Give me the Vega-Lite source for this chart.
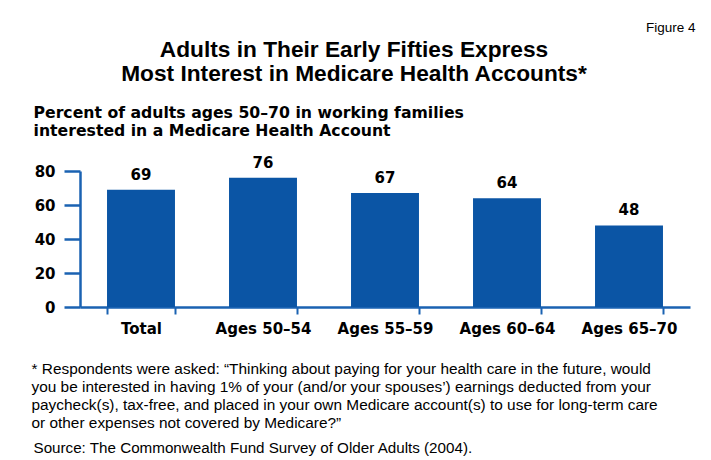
{
  "$schema": "https://vega.github.io/schema/vega-lite/v6.json",
  "width": 610,
  "height": 136,
  "autosize": {"type": "none"},
  "padding": {"left": 80, "top": 171, "right": 21, "bottom": 153},
  "background": "white",
  "config": {"view": {"stroke": null}},
  "title": {
    "text": ["Adults in Their Early Fifties Express", "Most Interest in Medicare Health Accounts*"],
    "font": "Liberation Sans",
    "fontSize": 22.7,
    "fontWeight": "bold",
    "color": "black",
    "anchor": "middle",
    "lineHeight": 24,
    "offset": 0,
    "dx": -31,
    "dy": 66
  },
  "data": {
    "values": [
      {"group": "Total", "pct": 69},
      {"group": "Ages 50–54", "pct": 76},
      {"group": "Ages 55–59", "pct": 67},
      {"group": "Ages 60–64", "pct": 64},
      {"group": "Ages 65–70", "pct": 48}
    ]
  },
  "layer": [
    {
      "mark": {"type": "bar", "color": "#0b55a5"},
      "encoding": {
        "x": {
          "field": "group", "type": "nominal", "sort": null,
          "scale": {"paddingInner": 0.443, "paddingOuter": 0.2215},
          "axis": {
            "orient": "bottom",
            "title": [
              "* Respondents were asked: “Thinking about paying for your health care in the future, would",
              "you be interested in having 1% of your (and/or your spouses’) earnings deducted from your",
              "paycheck(s), tax-free, and placed in your own Medicare account(s) to use for long-term care",
              "or other expenses not covered by Medicare?”"
            ],
            "titleFont": "Liberation Sans",
            "titleFontSize": 15.4,
            "titleFontWeight": "normal",
            "titleColor": "black",
            "titleAlign": "left",
            "titleAnchor": "start",
            "titleAngle": 0,
            "titleBaseline": "alphabetic",
            "titleLineHeight": 18,
            "titleX": -49,
            "titleY": 66,
            "labelAngle": 0,
            "labelFont": "DejaVu Sans",
            "labelFontSize": 15,
            "labelFontWeight": "bold",
            "labelColor": "black",
            "labelPadding": 7,
            "tickBand": "extent",
            "tickSize": 7,
            "tickWidth": 2,
            "tickColor": "#1a62b2",
            "domainColor": "#1a62b2",
            "domainWidth": 2.5
          }
        },
        "y": {
          "field": "pct", "type": "quantitative",
          "scale": {"domain": [0, 80], "nice": false},
          "axis": {
            "orient": "left",
            "values": [0, 20, 40, 60, 80],
            "grid": false,
            "title": ["Percent of adults ages 50–70 in working families", "interested in a Medicare Health Account"],
            "titleFont": "DejaVu Sans",
            "titleFontSize": 15.7,
            "titleFontWeight": "bold",
            "titleColor": "black",
            "titleAngle": 0,
            "titleAlign": "left",
            "titleBaseline": "alphabetic",
            "titleLineHeight": 18,
            "titleX": -47,
            "titleY": -54,
            "labelFont": "DejaVu Sans",
            "labelFontSize": 15,
            "labelFontWeight": "bold",
            "labelColor": "black",
            "labelPadding": 9,
            "tickSize": 16,
            "tickWidth": 2.5,
            "tickColor": "#1a62b2",
            "domainColor": "#1a62b2",
            "domainWidth": 2.5
          }
        }
      }
    },
    {
      "mark": {"type": "text", "baseline": "alphabetic", "dy": -10, "font": "DejaVu Sans", "fontSize": 15, "fontWeight": "bold", "color": "black"},
      "encoding": {
        "x": {
          "field": "group", "type": "nominal", "sort": null,
          "axis": {
            "orient": "top",
            "title": "Figure 4",
            "labels": false, "ticks": false, "domain": false,
            "titleFont": "Liberation Sans",
            "titleFontSize": 13.5,
            "titleFontWeight": "normal",
            "titleColor": "black",
            "titleAlign": "right",
            "titleBaseline": "middle",
            "titleX": 615,
            "titleY": -144
          }
        },
        "y": {
          "field": "pct", "type": "quantitative",
          "axis": {
            "orient": "right",
            "title": "Source: The Commonwealth Fund Survey of Older Adults (2004).",
            "labels": false, "ticks": false, "domain": false, "grid": false,
            "titleFont": "Liberation Sans",
            "titleFontSize": 15.2,
            "titleFontWeight": "normal",
            "titleColor": "black",
            "titleAngle": 0,
            "titleAlign": "left",
            "titleBaseline": "alphabetic",
            "titleX": -657,
            "titleY": 281
          }
        },
        "text": {"field": "pct", "type": "quantitative"}
      }
    }
  ],
  "resolve": {"axis": {"x": "independent", "y": "independent"}}
}
